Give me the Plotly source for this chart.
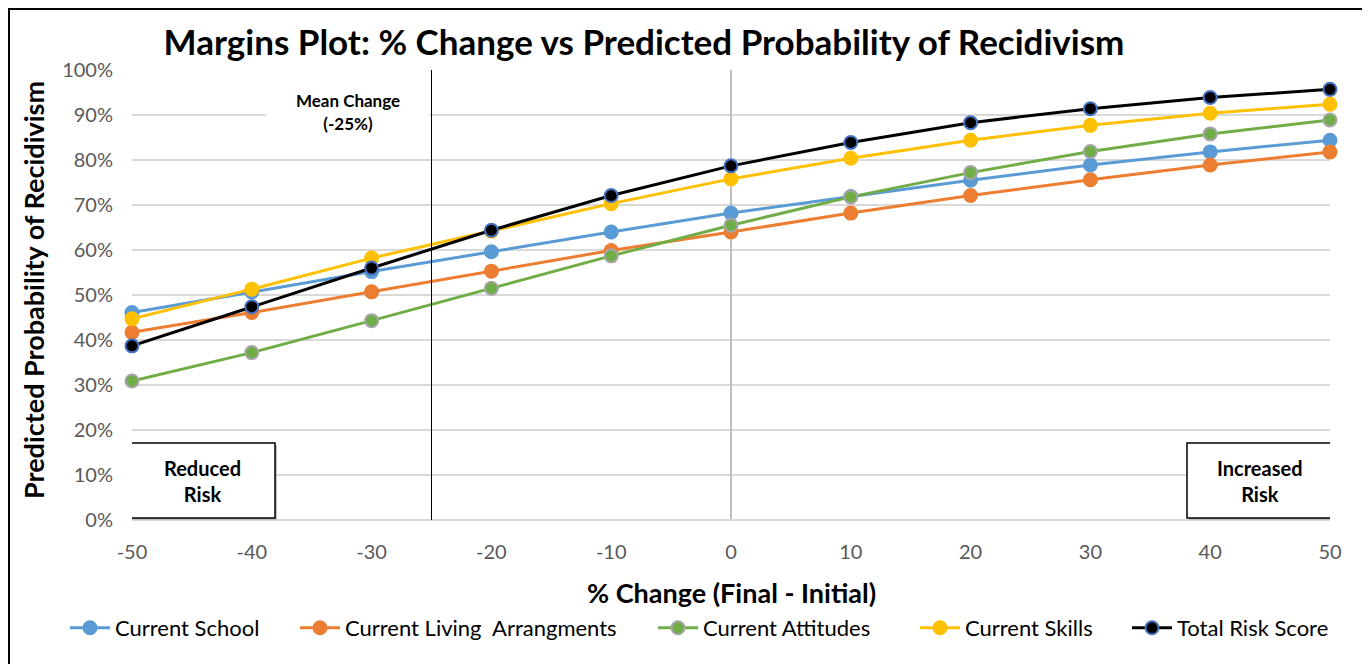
import plotly.graph_objects as go

x_change = [-50, -40, -30, -20, -10, 0, 10, 20, 30, 40, 50]

current_school = [0.461, 0.507, 0.552, 0.596, 0.640, 0.682, 0.719, 0.755, 0.789, 0.818, 0.844]
current_living = [0.417, 0.461, 0.507, 0.553, 0.599, 0.640, 0.682, 0.721, 0.756, 0.789, 0.818]
current_attitudes = [0.309, 0.372, 0.443, 0.515, 0.587, 0.655, 0.718, 0.772, 0.819, 0.858, 0.889]
current_skills = [0.447, 0.513, 0.582, 0.642, 0.703, 0.758, 0.804, 0.844, 0.877, 0.904, 0.924]
total_risk = [0.387, 0.474, 0.560, 0.644, 0.721, 0.787, 0.839, 0.883, 0.914, 0.939, 0.957]

series_names = ["Current School", "Current Living  Arrangments", "Current Attitudes",
                "Current Skills", "Total Risk Score"]
series_values = [current_school, current_living, current_attitudes, current_skills, total_risk]
line_colors = ["#5B9BD5", "#ED7D31", "#70AD47", "#FFC000", "#000000"]
marker_line_colors = ["#5B9BD5", "#ED7D31", "#A5A5A5", "#FFC000", "#4472C4"]

y_ticks = [i / 10 for i in range(11)]
y_tick_labels = [f"{i*10}%" for i in range(11)]
x_ticks = list(range(-50, 51, 10))
x_tick_labels = [str(v) for v in x_ticks]

mean_change = -25

FONT = "Lato"
OFF = 8  # page body margin
W, H = 1370 - OFF, 664 - OFF

# legend text start positions (reference page px)
legend_text_px = [115, 345, 703, 965, 1177]
LEG_TEXT_OFFSET = 50

fig = go.Figure()
legend_ids = ["legend", "legend2", "legend3", "legend4", "legend5"]
for name, vals, lc, mlc, lid in zip(series_names, series_values, line_colors,
                                     marker_line_colors, legend_ids):
    fig.add_trace(go.Scatter(
        x=x_change, y=vals, name=name, mode="lines+markers",
        line=dict(color=lc, width=3),
        marker=dict(size=13, color=lc, line=dict(color=mlc, width=2)),
        cliponaxis=False, legend=lid,
    ))

PX0, PX1, PY0, PY1 = 132, 1330, 70, 520
def px_to_x(px):
    return (px - PX0) / (PX1 - PX0) * 100 - 50
def py_to_paper(py):
    return (PY1 - py) / (PY1 - PY0)
def px_to_paper(px):
    return (px - PX0) / (PX1 - PX0)

shapes = []
shapes.append(dict(type="line", xref="x", yref="y", x0=mean_change, x1=mean_change, y0=0, y1=1,
                   line=dict(color="black", width=1), layer="above"))
for (bx0, bx1) in [(130, 275), (1187, 1332)]:
    shapes.append(dict(type="rect", xref="x", yref="paper",
                       x0=px_to_x(bx0 + 2), x1=px_to_x(bx1 + 2),
                       y0=py_to_paper(518 + 2), y1=py_to_paper(443 + 2),
                       fillcolor="#BFBFBF", line=dict(width=0), layer="above"))
    shapes.append(dict(type="rect", xref="x", yref="paper",
                       x0=px_to_x(bx0), x1=px_to_x(bx1),
                       y0=py_to_paper(518), y1=py_to_paper(443),
                       fillcolor="white", line=dict(color="black", width=1.5), layer="above"))
shapes.append(dict(type="rect", xref="paper", yref="paper",
                   x0=px_to_paper(9), x1=px_to_paper(1364),
                   y0=py_to_paper(680), y1=py_to_paper(9),
                   line=dict(color="black", width=2), fillcolor="rgba(0,0,0,0)", layer="below"))

annotations = [
    dict(text="<b>Mean Change<br>(-25%)</b>", x=px_to_x(348), y=py_to_paper(112),
         xref="x", yref="paper", xanchor="center", yanchor="middle", showarrow=False,
         bgcolor="white", width=160, height=52,
         font=dict(family=FONT, size=17, color="black"), align="center"),
    dict(text="<b>Reduced<br>Risk</b>", x=px_to_x(202.5), y=py_to_paper(481),
         xref="x", yref="paper", xanchor="center", yanchor="middle", showarrow=False,
         font=dict(family=FONT, size=20, color="black"), align="center"),
    dict(text="<b>Increased<br>Risk</b>", x=px_to_x(1259.5), y=py_to_paper(481),
         xref="x", yref="paper", xanchor="center", yanchor="middle", showarrow=False,
         font=dict(family=FONT, size=20, color="black"), align="center"),
    dict(text="<b>Predicted Probability of Recidivism</b>", x=px_to_paper(33), y=py_to_paper(290),
         xref="paper", yref="paper", xanchor="center", yanchor="middle", showarrow=False,
         textangle=-90, font=dict(family=FONT, size=27, color="black")),
    dict(text="<b>% Change (Final - Initial)</b>", x=px_to_paper(731), y=py_to_paper(592),
         xref="paper", yref="paper", xanchor="center", yanchor="middle", showarrow=False,
         font=dict(family=FONT, size=27, color="black")),
]

legend_layout = {}
for lid, tpx in zip(legend_ids, legend_text_px):
    legend_layout[lid] = dict(
        orientation="h", xref="container", yref="container",
        x=(tpx - OFF - LEG_TEXT_OFFSET) / W, xanchor="left",
        y=1 - (628 - OFF) / H, yanchor="middle",
        font=dict(family=FONT, size=22, color="black"),
        itemwidth=40, bgcolor="rgba(0,0,0,0)",
    )

fig.update_layout(
    width=W, height=H,
    margin=dict(l=PX0 - OFF, r=W - (PX1 - OFF), t=PY0 - OFF, b=H - (PY1 - OFF)),
    paper_bgcolor="white", plot_bgcolor="white",
    title=dict(text="<b>Margins Plot: % Change vs Predicted Probability of Recidivism</b>",
               x=(644 - OFF) / W, xanchor="center", xref="container",
               y=1 - (43 - OFF) / H, yanchor="middle", yref="container",
               font=dict(family=FONT, size=35, color="black")),
    xaxis=dict(range=[-50, 50], tickvals=x_ticks, ticktext=x_tick_labels, showgrid=False,
               zeroline=True, zerolinecolor="#BFBFBF", zerolinewidth=1.5,
               showline=False, ticks="", ticklabelstandoff=18,
               tickfont=dict(family=FONT, size=20, color="#595959")),
    yaxis=dict(range=[0, 1], tickvals=y_ticks, ticktext=y_tick_labels,
               showgrid=True, gridcolor="#D9D9D9", gridwidth=1.5,
               zeroline=True, zerolinecolor="#D9D9D9", zerolinewidth=1.5,
               showline=False, ticks="", ticklabelstandoff=18,
               tickfont=dict(family=FONT, size=20, color="#595959")),
    shapes=shapes,
    annotations=annotations,
    showlegend=True,
    **legend_layout,
)

fig.write_html("out.html")
